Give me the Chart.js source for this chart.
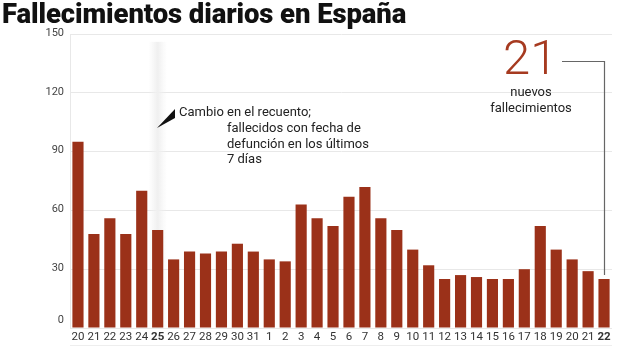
<!DOCTYPE html>
<html lang="es">
<head>
    <meta charset="UTF-8">
    <title>Fallecimientos diarios en España</title>
    <script src="https://cdn.jsdelivr.net/npm/chart.js"></script>
    <style>
        body { margin: 0; background: #fff; font-family: Roboto, "Liberation Sans", sans-serif; }
        #wrap { position: relative; width: 619px; height: 348px; overflow: hidden; }
        #chart { position: absolute; left: 0; top: 0; }
        #title { position: absolute; left: 2px; top: -3px; font-size: 27.5px; font-weight: 900; color: #111; letter-spacing: -0.1px; line-height: 34px; white-space: nowrap; }
        .note { position: absolute; font-size: 13px; color: #222; line-height: 15.5px; white-space: nowrap; }
        #big { position: absolute; left: 503px; top: 30px; font-size: 49px; font-weight: 300; color: #a63a20; line-height: 56px; }
        #sub { position: absolute; left: 480px; top: 84px; width: 102px; text-align: center; font-size: 13px; color: #222; line-height: 15.5px; }
    </style>
</head>
<body>
<div id="wrap">
    <canvas id="chart" width="619" height="348"></canvas>
    <div id="title">Fallecimientos diarios en España</div>
    <div class="note" style="left:179px; top:104px;">Cambio en el recuento;</div>
    <div class="note" style="left:227px; top:120px;">fallecidos con fecha de<br>defunción en los últimos<br>7 días</div>
    <div id="big">21</div>
    <div id="sub">nuevos<br>fallecimientos</div>
</div>

<script>
    // dias: 20-31 de mayo, 1-22 de junio
    const days = ['20','21','22','23','24','25','26','27','28','29','30','31',
                  '1','2','3','4','5','6','7','8','9','10','11','12','13','14','15','16','17','18','19','20','21','22'];
    const deaths = [95, 48, 56, 48, 70, 50, 35, 39, 38, 39, 43, 39,
                    35, 34, 63, 56, 52, 67, 72, 56, 50, 40, 32, 25, 27, 26, 25, 25, 30, 52, 40, 35, 29, 25];
    const yTicks = [0, 30, 60, 90, 120, 150];
    const boldDays = [5, 33]; // 25 (cambio) y 22 (hoy)
    const changeIndex = 5;

    const red = '#9b3119';

    // sombra del dia 25, señalador y linea del dato final
    const extras = {
        id: 'extras',
        beforeDatasetsDraw(chart) {
            const { ctx, scales: { x, y } } = chart;
            const cx = x.getPixelForValue(changeIndex);
            const w = (x.right - x.left) / days.length + 2;
            const g = ctx.createLinearGradient(cx - w / 2, 0, cx + w / 2, 0);
            g.addColorStop(0, 'rgba(240,240,240,0)');
            g.addColorStop(0.5, 'rgba(240,240,240,1)');
            g.addColorStop(1, 'rgba(240,240,240,0)');
            ctx.save();
            ctx.fillStyle = g;
            ctx.fillRect(cx - w / 2, y.getPixelForValue(146), w, y.getPixelForValue(0) - y.getPixelForValue(146));
            ctx.restore();
        },
        afterDraw(chart) {
            const { ctx, scales: { x, y } } = chart;
            ctx.save();
            // etiquetas del eje y
            ctx.fillStyle = '#444';
            ctx.font = '11px Roboto, sans-serif';
            ctx.textAlign = 'right';
            ctx.textBaseline = 'middle';
            yTicks.forEach(v => {
                ctx.fillText(String(v), 64, y.getPixelForValue(v) - (v === 0 ? 8 : 1));
            });

            // triangulo del aviso
            ctx.fillStyle = '#111';
            ctx.beginPath();
            ctx.moveTo(157, 128);
            ctx.lineTo(175, 109);
            ctx.lineTo(175, 118);
            ctx.closePath();
            ctx.fill();

            // linea hacia la ultima barra
            const last = days.length - 1;
            const lx = Math.round(x.getPixelForValue(last)) + 0.5;
            ctx.strokeStyle = '#666';
            ctx.lineWidth = 1.2;
            ctx.beginPath();
            ctx.moveTo(562, 61.5);
            ctx.lineTo(lx, 61.5);
            ctx.lineTo(lx, y.getPixelForValue(deaths[last]) - 4);
            ctx.stroke();

            // linea inferior
            ctx.strokeStyle = '#eeeeee';
            ctx.lineWidth = 1;
            ctx.beginPath();
            ctx.moveTo(x.left, 345.5);
            ctx.lineTo(x.right, 345.5);
            ctx.stroke();
            ctx.restore();
        }
    };

    new Chart(document.getElementById('chart'), {
        type: 'bar',
        data: {
            labels: days,
            datasets: [{
                data: deaths,
                backgroundColor: red,
                barPercentage: 0.7,
                categoryPercentage: 1.0
            }]
        },
        options: {
            responsive: false,
            animation: false,
            devicePixelRatio: 1,
            layout: { padding: { top: 34, right: 7, left: 0, bottom: 0 } },
            plugins: { legend: { display: false }, tooltip: { enabled: false } },
            scales: {
                x: {
                    grid: { display: false, drawTicks: false },
                    border: { display: false },
                    ticks: {
                        autoSkip: false,
                        maxRotation: 0,
                        padding: 2,
                        color: '#333',
                        font: ctx => ({ family: 'Roboto, sans-serif', size: 11.5, weight: boldDays.includes(ctx.index) ? 'bold' : 'normal' })
                    },
                    afterFit: s => { s.height = 20; }
                },
                y: {
                    min: 0,
                    max: 150,
                    ticks: { stepSize: 30, display: false },
                    grid: { color: '#e8e8e8', drawTicks: false },
                    border: { display: true, color: '#e8e8e8' },
                    afterFit: s => { s.width = 70; }
                }
            }
        },
        plugins: [extras]
    });
</script>
</body>
</html>
